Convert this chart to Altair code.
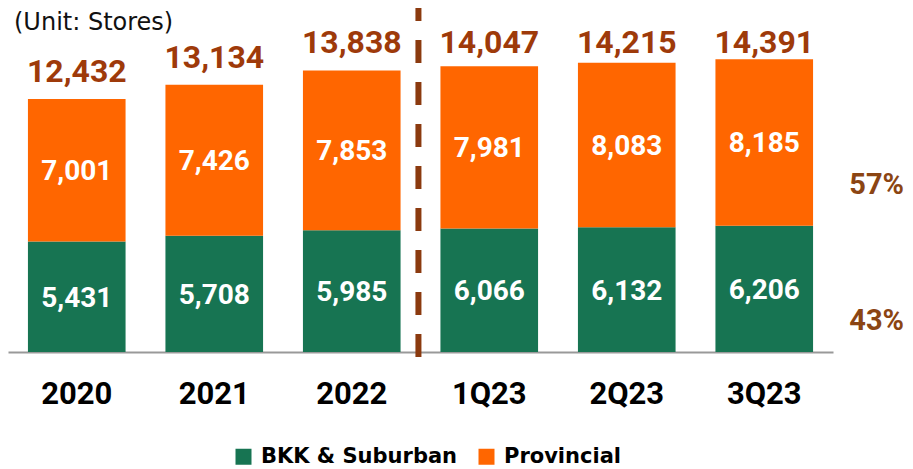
import altair as alt
import pandas as pd

categories = ["2020", "2021", "2022", "1Q23", "2Q23", "3Q23"]
bkk = [5431, 5708, 5985, 6066, 6132, 6206]
provincial = [7001, 7426, 7853, 7981, 8083, 8185]
totals = [12432, 13134, 13838, 14047, 14215, 14391]
series = ["BKK & Suburban", "Provincial"]
shares = ["57%", "43%"]
unit_label = "(Unit:  Stores)"

GREEN = "#177452"
ORANGE = "#FF6600"
TOTAL_COLOR = "#9E3A0A"
PCT_COLOR = "#8B4513"
DASH_COLOR = "#8B3A0F"

rows = []
for i, c in enumerate(categories):
    rows.append({"cat": c, "series": series[0], "value": bkk[i], "k": 0})
    rows.append({"cat": c, "series": series[1], "value": provincial[i], "k": 1})
df = pd.DataFrame(rows)
tot_df = pd.DataFrame({"cat": categories, "total": totals})

yscale = alt.Scale(domain=[0, 16314], nice=False, zero=True)
xenc = alt.X(
    "cat:N",
    sort=categories,
    scale=alt.Scale(paddingInner=0.29, paddingOuter=0.145),
    axis=alt.Axis(
        title=None,
        labelAngle=0,
        labelFont="Roboto",
        labelFontSize=31,
        labelFontWeight="bold",
        labelColor="#000000",
        labelPadding=27,
        ticks=False,
        tickSize=0,
        domainColor="#999999",
        domainWidth=2,
        grid=False,
    ),
)

bars = alt.Chart(df).mark_bar().encode(
    x=xenc,
    y=alt.Y("value:Q", stack="zero", scale=yscale, axis=None),
    color=alt.Color(
        "series:N",
        scale=alt.Scale(domain=series, range=[GREEN, ORANGE]),
        legend=alt.Legend(
            title=None,
            orient="none",
            legendX=225,
            legendY=426,
            direction="horizontal",
            columns=2,
            symbolType="square",
            symbolSize=256,
            symbolStrokeWidth=0,
            symbolOpacity=1,
            labelFont="DejaVu Sans",
            labelFontSize=21,
            labelFontWeight="bold",
            labelColor="#000000",
            labelOffset=7,
            labelLimit=400,
            columnPadding=18,
        ),
    ),
    order=alt.Order("k:Q", sort="ascending"),
)

inner = (
    alt.Chart(df)
    .transform_stack(
        stack="value",
        groupby=["cat"],
        as_=["y0", "y1"],
        sort=[alt.SortField("k", order="ascending")],
    )
    .transform_calculate(mid="(datum.y0 + datum.y1) / 2")
    .mark_text(
        color="white", font="Roboto", fontSize=28, fontWeight="bold",
        baseline="middle", dy=2,
    )
    .encode(x=xenc, y=alt.Y("mid:Q", scale=yscale), text=alt.Text("value:Q", format=","))
)

tot_text = (
    alt.Chart(tot_df)
    .transform_calculate(ly="min(datum.total + 835, 14693)")
    .mark_text(
        color=TOTAL_COLOR, font="Roboto", fontSize=32, fontWeight="bold",
        baseline="alphabetic",
    )
    .encode(x=xenc, y=alt.Y("ly:Q", scale=yscale), text=alt.Text("total:Q", format=","))
)

divider = (
    alt.Chart(pd.DataFrame({"cat": ["1Q23"]}))
    .mark_rule(color=DASH_COLOR, strokeWidth=6, strokeDash=[23, 19], strokeCap="butt", xOffset=-22)
    .encode(
        x=alt.X("cat:N", sort=categories, bandPosition=0),
        y=alt.value(337),
        y2=alt.value(-20),
    )
)

pct_top = (
    alt.Chart(pd.DataFrame({"t": [shares[0]]}))
    .mark_text(color=PCT_COLOR, font="Roboto", fontSize=29, fontWeight="bold", baseline="middle", align="right")
    .encode(text="t:N", x=alt.value(896), y=alt.value(165))
)
pct_bot = (
    alt.Chart(pd.DataFrame({"t": [shares[1]]}))
    .mark_text(color=PCT_COLOR, font="Roboto", fontSize=29, fontWeight="bold", baseline="middle", align="right")
    .encode(text="t:N", x=alt.value(896), y=alt.value(301))
)

unit = (
    alt.Chart(pd.DataFrame({"t": [unit_label]}))
    .mark_text(color="#111111", font="DejaVu Sans", fontSize=24, baseline="alphabetic", align="left")
    .encode(text="t:N", x=alt.value(6), y=alt.value(10))
)

chart = (
    alt.layer(bars, inner, tot_text, divider, pct_top, pct_bot, unit)
    .properties(
        width=825,
        height=332,
        padding={"left": 0, "top": 12, "right": 72, "bottom": 117},
        autosize=alt.AutoSizeParams(type="none"),
    )
    .configure_view(stroke=None)
)

chart.save("out.html", embed_options={"renderer": "svg", "actions": False})
